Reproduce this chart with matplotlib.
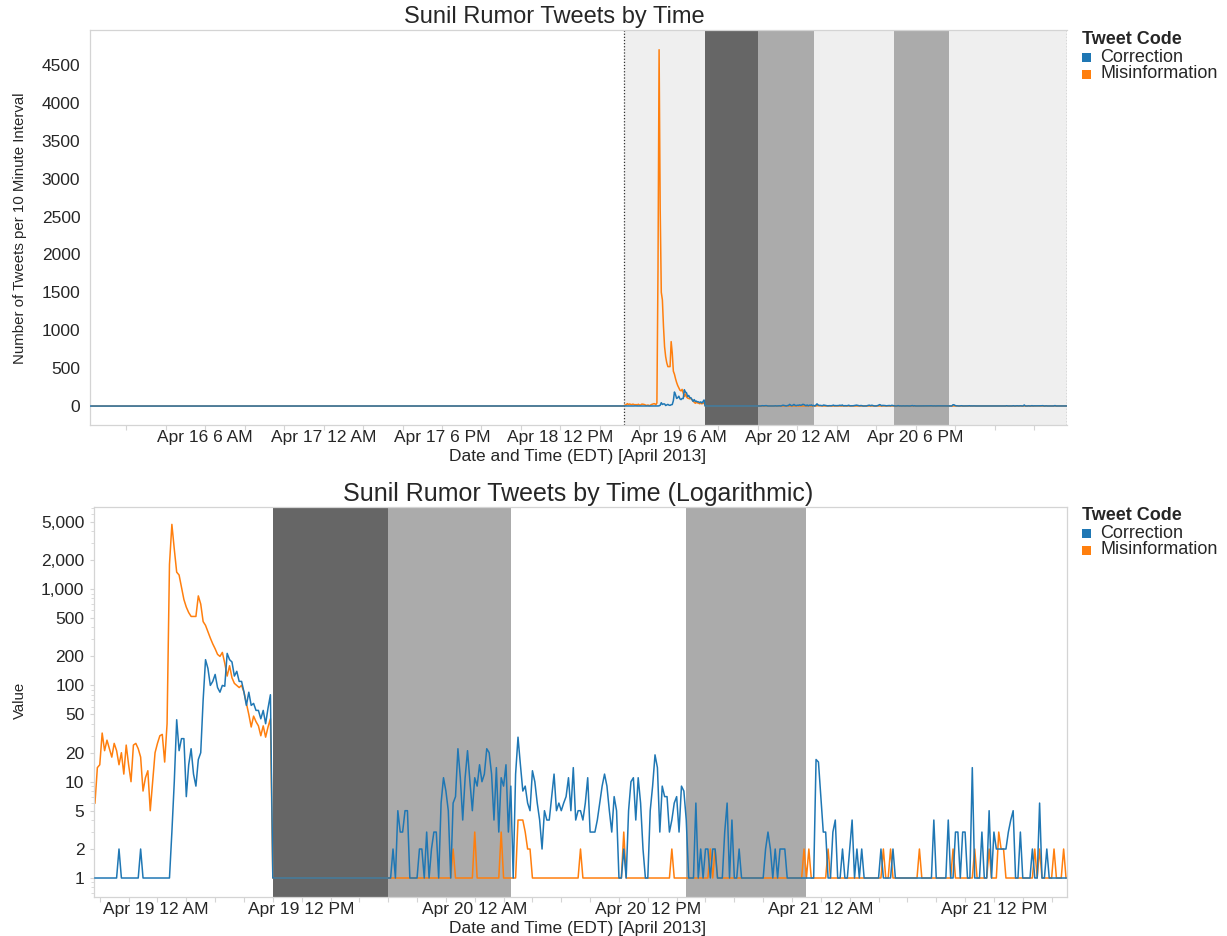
import numpy as np
import matplotlib
matplotlib.use("Agg")
import matplotlib.pyplot as plt
import matplotlib.dates as mdates
from matplotlib.patches import Rectangle
from matplotlib.ticker import FixedLocator, FixedFormatter, LogLocator, NullFormatter
from matplotlib.transforms import ScaledTranslation

plt.rcParams['font.family'] = ['Liberation Sans', 'DejaVu Sans']

# ---------------- data ----------------
series_names = ["Correction", "Misinformation"]
series_colors = ["#1f77b4", "#ff7f0e"]
legend_title = "Tweet Code"

data_start = "2013-04-18T21:40"      # first 10-minute interval
interval_minutes = 10
top_view_start = "2013-04-15T12:30"  # start of the (all-zero) lead period in the top chart

correction = [
    1, 1, 1, 1, 1, 1, 1, 1, 1, 1,
    2, 1, 1, 1, 1, 1, 1, 1, 1, 2,
    1, 1, 1, 1, 1, 1, 1, 1, 1, 1,
    1, 1, 3, 10, 44, 21, 28, 28, 7, 15,
    22, 12, 9, 17, 20, 70, 185, 150, 100, 110,
    130, 95, 85, 100, 98, 215, 185, 175, 125, 140,
    110, 110, 85, 62, 85, 62, 65, 55, 55, 45,
    55, 40, 58, 80, 1, 1, 1, 1, 1, 1,
    1, 1, 1, 1, 1, 1, 1, 1, 1, 1,
    1, 1, 1, 1, 1, 1, 1, 1, 1, 1,
    1, 1, 1, 1, 1, 1, 1, 1, 1, 1,
    1, 1, 1, 1, 1, 1, 1, 1, 1, 1,
    1, 1, 1, 1, 2, 1, 5, 3, 3, 5,
    5, 1, 1, 1, 1, 2, 2, 1, 3, 1,
    2, 3, 3, 1, 6, 11, 8, 5, 1, 6,
    7, 22, 11, 4, 11, 21, 10, 5, 11, 9,
    15, 10, 12, 22, 20, 12, 4, 14, 3, 11,
    9, 15, 3, 9, 1, 12, 29, 15, 8, 9,
    6, 5, 13, 10, 6, 4, 2, 5, 4, 4,
    7, 12, 5, 6, 5, 6, 7, 11, 5, 14,
    4, 5, 5, 4, 6, 11, 3, 3, 3, 4,
    6, 9, 12, 9, 5, 3, 7, 5, 1, 1,
    2, 1, 5, 10, 11, 4, 11, 6, 2, 1,
    1, 5, 9, 19, 14, 3, 9, 7, 7, 3,
    4, 6, 7, 3, 9, 8, 4, 1, 1, 1,
    6, 1, 2, 1, 2, 2, 1, 2, 2, 1,
    1, 1, 3, 6, 1, 4, 1, 1, 2, 1,
    1, 1, 1, 1, 1, 1, 1, 1, 1, 2,
    3, 2, 1, 2, 1, 2, 2, 2, 1, 1,
    1, 1, 1, 1, 1, 1, 1, 1, 1, 1,
    17, 16, 7, 3, 3, 1, 1, 3, 4, 1,
    1, 2, 1, 1, 2, 4, 1, 2, 1, 2,
    1, 1, 1, 1, 1, 1, 1, 2, 1, 1,
    1, 1, 2, 1, 1, 1, 1, 1, 1, 1,
    1, 1, 1, 1, 1, 1, 1, 1, 1, 4,
    1, 1, 1, 1, 1, 4, 1, 1, 3, 3,
    1, 3, 3, 1, 1, 14, 1, 1, 1, 3,
    1, 1, 5, 1, 3, 2, 2, 2, 2, 2,
    3, 4, 5, 1, 1, 3, 1, 1, 1, 1,
    2, 1, 1, 6, 1, 1, 2, 1, 1, 1,
    1, 1, 1, 1, 1,
]

misinformation = [
    6, 14, 15, 32, 21, 27, 22, 18, 25, 21,
    15, 20, 12, 24, 15, 10, 24, 25, 22, 18,
    8, 11, 13, 5, 10, 20, 25, 30, 31, 16,
    40, 1800, 4700, 2600, 1500, 1400, 1050, 780, 650, 570,
    520, 520, 520, 850, 700, 460, 420, 360, 310, 270,
    240, 210, 200, 220, 170, 125, 160, 120, 105, 100,
    95, 100, 85, 65, 50, 37, 48, 42, 38, 30,
    38, 29, 37, 45, 1, 1, 1, 1, 1, 1,
    1, 1, 1, 1, 1, 1, 1, 1, 1, 1,
    1, 1, 1, 1, 1, 1, 1, 1, 1, 1,
    1, 1, 1, 1, 1, 1, 1, 1, 1, 1,
    1, 1, 1, 1, 1, 1, 1, 1, 1, 1,
    1, 1, 1, 1, 1, 1, 1, 1, 1, 1,
    1, 1, 1, 1, 1, 1, 1, 1, 1, 1,
    1, 1, 1, 1, 1, 1, 1, 1, 1, 2,
    1, 1, 1, 1, 1, 1, 1, 1, 3, 1,
    1, 1, 1, 1, 1, 1, 1, 1, 1, 3,
    1, 1, 1, 1, 1, 1, 4, 4, 4, 3,
    2, 2, 1, 1, 1, 1, 1, 1, 1, 1,
    1, 1, 1, 1, 1, 1, 1, 1, 1, 1,
    1, 1, 2, 1, 1, 1, 1, 1, 1, 1,
    1, 1, 1, 1, 1, 1, 1, 1, 1, 1,
    3, 1, 1, 1, 1, 1, 1, 1, 1, 1,
    1, 1, 1, 1, 1, 1, 1, 1, 1, 1,
    2, 1, 1, 1, 1, 1, 1, 1, 1, 1,
    1, 1, 1, 1, 1, 1, 2, 1, 2, 1,
    1, 1, 1, 1, 1, 1, 1, 1, 1, 1,
    1, 1, 1, 1, 1, 1, 1, 1, 1, 1,
    1, 1, 1, 1, 1, 1, 1, 1, 1, 1,
    1, 1, 1, 1, 1, 2, 1, 2, 1, 1,
    1, 1, 1, 1, 1, 2, 1, 1, 1, 1,
    1, 1, 1, 1, 1, 1, 1, 1, 1, 1,
    1, 1, 1, 1, 1, 1, 1, 1, 2, 1,
    1, 2, 1, 1, 1, 1, 1, 1, 1, 1,
    1, 1, 1, 2, 1, 1, 1, 1, 1, 1,
    1, 1, 1, 1, 1, 1, 1, 2, 1, 1,
    1, 1, 1, 1, 1, 1, 2, 1, 1, 1,
    1, 1, 2, 1, 1, 1, 3, 2, 2, 1,
    1, 1, 1, 1, 1, 1, 1, 1, 1, 1,
    1, 2, 1, 2, 1, 1, 1, 1, 1, 2,
    1, 1, 1, 2, 1,
]

# shaded periods (start, end)
dark_periods = [("2013-04-19T10:00", "2013-04-19T18:00")]
mid_periods = [("2013-04-19T18:00", "2013-04-20T02:30"),
               ("2013-04-20T14:40", "2013-04-20T23:00")]

top_tick_times = ["2013-04-16T06:00", "2013-04-17T00:00", "2013-04-17T18:00",
                  "2013-04-18T12:00", "2013-04-19T06:00", "2013-04-20T00:00",
                  "2013-04-20T18:00"]
top_tick_labels = ["Apr 16 6 AM", "Apr 17 12 AM", "Apr 17 6 PM", "Apr 18 12 PM",
                   "Apr 19 6 AM", "Apr 20 12 AM", "Apr 20 6 PM"]
bottom_tick_times = ["2013-04-19T00:00", "2013-04-19T12:00", "2013-04-20T00:00",
                     "2013-04-20T12:00", "2013-04-21T00:00", "2013-04-21T12:00"]
bottom_tick_labels = ["Apr 19 12 AM", "Apr 19 12 PM", "Apr 20 12 AM",
                      "Apr 20 12 PM", "Apr 21 12 AM", "Apr 21 12 PM"]
top_yticks = [0, 500, 1000, 1500, 2000, 2500, 3000, 3500, 4000, 4500]
log_yticks = [1, 2, 5, 10, 20, 50, 100, 200, 500, 1000, 2000, 5000]
log_ytick_labels = ["1", "2", "5", "10", "20", "50", "100", "200", "500",
                    "1,000", "2,000", "5,000"]

title_top = "Sunil Rumor Tweets by Time"
title_bottom = "Sunil Rumor Tweets by Time (Logarithmic)"
xlabel = "Date and Time (EDT) [April 2013]"
ylabel_top = "Number of Tweets per 10 Minute Interval"
ylabel_bottom = "Value"

# ---------------- figure ----------------
W, H = 1227, 936
fig = plt.figure(figsize=(W / 100, H / 100), dpi=100)


def fx(px):
    return px / W


def fy(py):
    return 1 - py / H


TXT = '#262626'
SPINE = '#d4d4d4'
TICK_FS = 12.5

ax1 = fig.add_axes([fx(90), fy(425), (1067 - 90) / W, (425 - 30) / H])
ax2 = fig.add_axes([fx(94), fy(897), (1067 - 94) / W, (897 - 507) / H])

step = np.timedelta64(interval_minutes, 'm')
t0 = np.datetime64(data_start)
corr = np.array(correction, dtype=float)
mis = np.array(misinformation, dtype=float)
times_c = t0 + np.arange(len(corr)) * step
times_m = t0 + np.arange(len(mis)) * step
t_end = times_c[-1]

lead_start = np.datetime64(top_view_start)
n_lead = int((t0 - lead_start) / step)
lead_times = t0 - np.arange(n_lead, 0, -1) * step
lead_vals = np.zeros(n_lead)


def dn(s):
    return mdates.date2num(np.datetime64(s))


# ---------- top chart ----------
ax1.axvspan(t0, t_end, color='#efefef', lw=0, zorder=0)
for a, b in dark_periods:
    ax1.axvspan(np.datetime64(a), np.datetime64(b), color='#666666', lw=0, zorder=0.5)
for a, b in mid_periods:
    ax1.axvspan(np.datetime64(a), np.datetime64(b), color='#ababab', lw=0, zorder=0.5)
for tv in (t0, t_end):
    ax1.axvline(tv, color='#333333', lw=0.9, ls=(0, (1, 1.5)), zorder=1)

ax1.plot(np.concatenate([lead_times, times_m]), np.concatenate([lead_vals, mis]),
         color=series_colors[1], lw=1.1, zorder=2)
ax1.plot(np.concatenate([lead_times, times_c]), np.concatenate([lead_vals, corr]),
         color=series_colors[0], lw=1.1, zorder=3)

ax1.set_xlim(lead_start, t_end)
ax1.set_ylim(-250, 4960)
ax1.yaxis.set_major_locator(FixedLocator(top_yticks))
ax1.set_yticklabels([str(v) for v in top_yticks])
ax1.xaxis.set_major_locator(FixedLocator([dn(s) for s in top_tick_times]))
ax1.xaxis.set_major_formatter(FixedFormatter(top_tick_labels))
ax1.xaxis.set_minor_locator(mdates.HourLocator(byhour=[0, 6, 12, 18]))
ax1.xaxis.set_minor_formatter(NullFormatter())
ax1.tick_params(axis='y', length=0, pad=7, labelsize=TICK_FS, labelcolor=TXT)
ax1.tick_params(axis='x', which='both', length=3.5, width=0.8, color=SPINE,
                pad=0, labelsize=TICK_FS, labelcolor=TXT)
for s in ['left', 'bottom', 'top']:
    ax1.spines[s].set_color(SPINE)
    ax1.spines[s].set_linewidth(0.9)
ax1.spines['right'].set_visible(False)

# ---------- bottom chart ----------
for a, b in dark_periods:
    ax2.axvspan(np.datetime64(a), np.datetime64(b), color='#666666', lw=0, zorder=0.5)
for a, b in mid_periods:
    ax2.axvspan(np.datetime64(a), np.datetime64(b), color='#ababab', lw=0, zorder=0.5)

ax2.plot(times_m, mis, color=series_colors[1], lw=1.1, zorder=2)
ax2.plot(times_c, corr, color=series_colors[0], lw=1.1, zorder=3)

ax2.set_yscale('log')
ax2.set_ylim(0.635, 7120)
ax2.set_xlim(t0 - np.timedelta64(4, 'm'), t0 + np.timedelta64(4044, 'm'))
ax2.yaxis.set_major_locator(FixedLocator(log_yticks))
ax2.yaxis.set_major_formatter(FixedFormatter(log_ytick_labels))
ax2.yaxis.set_minor_locator(LogLocator(base=10, subs=(2, 3, 4, 5, 6, 7, 8, 9)))
ax2.yaxis.set_minor_formatter(NullFormatter())
ax2.xaxis.set_major_locator(FixedLocator([dn(s) for s in bottom_tick_times]))
ax2.xaxis.set_major_formatter(FixedFormatter(bottom_tick_labels))
ax2.xaxis.set_minor_locator(mdates.HourLocator(byhour=list(range(0, 24, 2))))
ax2.xaxis.set_minor_formatter(NullFormatter())
ax2.tick_params(axis='y', which='major', length=3, width=0.8, color=SPINE, pad=4,
                labelsize=TICK_FS, labelcolor=TXT)
ax2.tick_params(axis='y', which='minor', length=2, width=0.6, color=SPINE)
ax2.tick_params(axis='x', which='both', length=3.5, width=0.8, color=SPINE,
                pad=0, labelsize=TICK_FS, labelcolor=TXT)
for s in ax2.spines.values():
    s.set_color(SPINE)
    s.set_linewidth(0.9)

# shift first bottom tick label inward (as in the reference)
first = ax2.xaxis.get_major_ticks()[0].label1
first.set_transform(first.get_transform() + ScaledTranslation(27 / 100, 0, fig.dpi_scale_trans))

# ---------- texts ----------
fig.text(fx(554), fy(17), title_top, fontsize=17, ha='center', va='center', color=TXT)
fig.text(fx(578), fy(494), title_bottom, fontsize=18, ha='center', va='center', color=TXT)
fig.text(fx(578), fy(456), xlabel, fontsize=12.5, ha='center', va='center', color=TXT)
fig.text(fx(578), fy(929), xlabel, fontsize=12.5, ha='center', va='center', color=TXT)
fig.text(fx(20), fy(228), ylabel_top, fontsize=10.8, rotation=90, ha='center', va='center',
         color=TXT)
fig.text(fx(20), fy(700), ylabel_bottom, fontsize=10.8, rotation=90, ha='center', va='center',
         color=TXT)


def draw_legend(title_y):
    fig.text(fx(1082), fy(title_y), legend_title, fontsize=13, fontweight='bold',
             ha='left', va='center', color=TXT)
    for k, (name, col) in enumerate(zip(series_names, series_colors)):
        yc = title_y + 17 * (k + 1)
        fig.add_artist(Rectangle((fx(1082), fy(yc + 4.5)), 9 / W, 9 / H,
                                 transform=fig.transFigure, facecolor=col, edgecolor='none'))
        fig.text(fx(1100), fy(yc), name, fontsize=13, ha='left', va='center', color=TXT)


draw_legend(40)
draw_legend(516)

fig.savefig("out.png", dpi=100)
